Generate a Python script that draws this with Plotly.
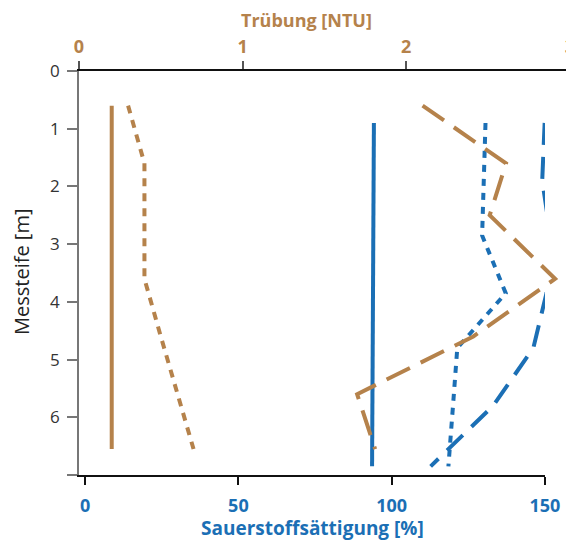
import plotly.graph_objects as go

# Depths [m]
depth_turb = [0.6, 1.6, 2.5, 3.6, 4.6, 5.6, 6.55]
depth_oxy = [0.9, 1.9, 2.85, 3.85, 4.8, 5.8, 6.85]

# Trübung [NTU]
turb_solid = [0.2, 0.2, 0.2, 0.2, 0.2, 0.2, 0.2]
turb_dot = [0.30, 0.40, 0.40, 0.40, 0.50, 0.60, 0.70]
turb_dash = [2.10, 2.61, 2.51, 2.91, 2.41, 1.70, 1.81]

# Sauerstoffsättigung [%]
oxy_solid = [94.2, 94.1, 94.0, 94.0, 93.9, 93.7, 93.6]
oxy_dot = [130.6, 130.2, 129.5, 137.2, 121.4, 120.0, 118.5]
oxy_dash = [149.9, 149.1, 151.8, 150.5, 146.2, 133.1, 112.7]

y_ticks = [0, 1, 2, 3, 4, 5, 6, 7]
y_ticktext = ["0", "1", "2", "3", "4", "5", "6", ""]
oxy_ticks = [0, 50, 100, 150]
turb_ticks = [0, 1, 2, 3]

BROWN = "#B5824B"
BLUE = "#1B6FB5"
FONT = "Open Sans"

fig = go.Figure()

def add(x, y, color, dash, axis):
    fig.add_trace(go.Scatter(x=x, y=y, mode="lines", xaxis=axis, yaxis="y",
                             line=dict(color=color, width=4, dash=dash),
                             showlegend=False, hoverinfo="skip"))

add(turb_solid, depth_turb, BROWN, "solid", "x2")
add(turb_dot, depth_turb, BROWN, "8px,7px", "x2")
add(turb_dash, depth_turb, BROWN, "26px,12px", "x2")
add(oxy_solid, depth_oxy, BLUE, "solid", "x")
add(oxy_dot, depth_oxy, BLUE, "7px,7px", "x")
add(oxy_dash, depth_oxy, BLUE, "22px,12px", "x")

# page body has an 8px margin -> figure is 8px smaller and offset
OFF = 8
W, H = 574 - OFF, 541 - OFF
L, R, T, B = 79 - OFF, 4, 71 - OFF, 66
pw = W - L - R
ph = H - T - B

def px(sx):
    return (sx - OFF - L) / pw

def py(sy):
    return (H - B - (sy - OFF)) / ph

fig.update_layout(
    width=W, height=H,
    margin=dict(l=L, r=R, t=T, b=B, autoexpand=False),
    paper_bgcolor="white", plot_bgcolor="rgba(0,0,0,0)",
    xaxis=dict(domain=[0, px(545)], range=[-2, 150.01], tickvals=oxy_ticks,
               showgrid=False, zeroline=False, showline=True, linecolor="#111",
               linewidth=1.5, ticks="outside", ticklen=8, tickcolor="#111",
               tickwidth=1.5, anchor="y", side="bottom", automargin=False,
               tickfont=dict(family=FONT, size=18, color=BLUE, weight="bold"),
               ticklabelstandoff=6),
    xaxis2=dict(domain=[0, 1], range=[0, 3.001], tickvals=turb_ticks,
                showgrid=False, zeroline=False, showline=True, linecolor="#111",
                linewidth=1.5, ticks="outside", ticklen=8, tickcolor="#555",
                tickwidth=1.5, anchor="y", side="top", automargin=False,
                tickfont=dict(family=FONT, size=18, color=BROWN, weight="bold"),
                ticklabelstandoff=1, ticklabeloverflow="allow"),
    yaxis=dict(range=[7, 0], tickvals=y_ticks, ticktext=y_ticktext,
               showgrid=False, zeroline=False, showline=True, linecolor="#777",
               linewidth=1.5, ticks="outside", ticklen=10, tickcolor="#777",
               tickwidth=1.5, anchor="x", automargin=False,
               tickfont=dict(family=FONT, size=17, color="#333"),
               ticklabelstandoff=4),
    annotations=[
        dict(text="Trübung [NTU]", xref="paper", yref="paper",
             x=px(306), y=py(20), showarrow=False, borderpad=0,
             xanchor="center", yanchor="middle",
             font=dict(family=FONT, size=18, color=BROWN, weight="bold")),
        dict(text="Sauerstoffsättigung [%]", xref="paper", yref="paper",
             x=px(312), y=py(528), showarrow=False, borderpad=0,
             xanchor="center", yanchor="middle",
             font=dict(family=FONT, size=19, color=BLUE, weight="bold")),
        dict(text="Messteife [m]", xref="paper", yref="paper",
             x=px(21), y=py(272), showarrow=False, textangle=-90, borderpad=0,
             xanchor="center", yanchor="middle",
             font=dict(family=FONT, size=20, color="#222")),
    ],
)

fig.write_html("out.html")
